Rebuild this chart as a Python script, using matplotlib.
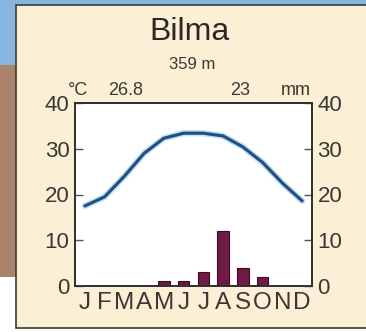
import numpy as np
import matplotlib.pyplot as plt
from matplotlib.patches import Rectangle

# Climate data for Bilma
station = 'Bilma'
altitude = '359 m'
months = ['J', 'F', 'M', 'A', 'M', 'J', 'J', 'A', 'S', 'O', 'N', 'D']
temp = [17.5, 19.5, 24.0, 29.0, 32.3, 33.4, 33.4, 32.8, 30.4, 27.0, 22.5, 18.6]
precip = [0, 0, 0, 0, 1, 1, 3, 12, 4, 2, 0, 0]
mean_temp = 26.8
total_precip = sum(precip)
yticks = [0, 10, 20, 30, 40]

plt.rcParams['font.family'] = ['Liberation Sans', 'DejaVu Sans']
text_col = '#3b3833'

fig = plt.figure(figsize=(3.66, 3.32), dpi=100, facecolor='white')

# background decoration around the panel (page behind the card)
fig.patches.append(Rectangle((0, 1 - 5 / 332), 1, 5 / 332, transform=fig.transFigure,
                             facecolor='#86b6de', edgecolor='none', zorder=-3))
fig.patches.append(Rectangle((0, 1 - 65 / 332), 16 / 366, 65 / 332, transform=fig.transFigure,
                             facecolor='#86b6de', edgecolor='none', zorder=-3))
fig.patches.append(Rectangle((0, 1 - 277 / 332), 16 / 366, 212 / 332, transform=fig.transFigure,
                             facecolor='#a9846b', edgecolor='none', zorder=-3))
fig.patches.append(Rectangle((16 / 366, 4 / 332), 1.0, 323 / 332, transform=fig.transFigure,
                             facecolor='#fbf0d6', edgecolor='#3a3a3a', linewidth=1.2, zorder=-2))

ax = fig.add_axes([75 / 366, 1 - 286 / 332, 237 / 366, 183 / 332])
ax.set_facecolor('white')
x = np.arange(1, 13)

ax2 = ax.twinx()
ax2.bar(x, precip, width=0.57, color='#701a47', edgecolor='#3d0a22', linewidth=0.8)
ax2.set_ylim(0, 40)
ax2.set_yticks(yticks)

ax.plot(x, temp, color='#8fc4ea', linewidth=4.6, alpha=0.5, solid_capstyle='round', zorder=3)
ax.plot(x, temp, color='#1f5283', linewidth=2.3, solid_capstyle='round',
        solid_joinstyle='round', zorder=4)
ax.set_zorder(ax2.get_zorder() + 1)
ax.patch.set_visible(False)
ax2.patch.set_visible(True)
ax2.patch.set_facecolor('white')
ax.set_xlim(0.5, 12.5)
ax.set_ylim(0, 40)
ax.set_yticks(yticks)
ax.set_xticks(x)
ax.set_xticklabels(months)

for a in (ax, ax2):
    for s in a.spines.values():
        s.set_color('#2e2e2e')
        s.set_linewidth(1.2)
ax.tick_params(axis='y', direction='in', length=6, width=1, color='#555555',
               labelsize=16, labelcolor=text_col, pad=4)
ax2.tick_params(axis='y', direction='in', length=6, width=1, color='#555555',
                labelsize=16, labelcolor=text_col, pad=4)
ax.tick_params(axis='x', length=0, labelsize=17.5, labelcolor=text_col, pad=4)

# header labels
ax.text(-0.03, 1.044, '°C', transform=ax.transAxes, fontsize=13, color=text_col,
        ha='left', va='baseline')
ax.text(0.139, 1.044, f'{mean_temp:.1f}', transform=ax.transAxes, fontsize=13,
        color=text_col, ha='left', va='baseline')
ax.text(0.654, 1.044, f'{total_precip}', transform=ax.transAxes, fontsize=13,
        color=text_col, ha='left', va='baseline')
ax.text(0.995, 1.044, 'mm', transform=ax.transAxes, fontsize=13, color=text_col,
        ha='right', va='baseline')

fig.text(0.519, 1 - 40 / 332, station, fontsize=23, color='#2a2724', ha='center', va='baseline')
fig.text(0.525, 1 - 69 / 332, altitude, fontsize=12, color=text_col, ha='center', va='baseline')

fig.savefig('out.png', dpi=100, facecolor=fig.get_facecolor())
